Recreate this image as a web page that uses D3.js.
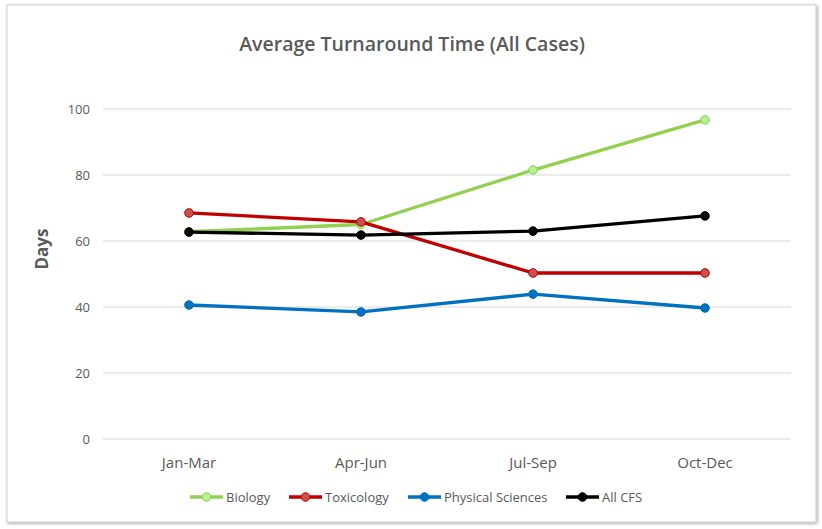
<!DOCTYPE html>
<html>
<head>
<meta charset="utf-8">
<script src="https://cdn.jsdelivr.net/npm/d3@7"></script>
<style>
  body { margin: 0; background: #fff; }
  svg { display: block; font-family: "Open Sans", "Noto Sans", sans-serif; }
</style>
</head>
<body>
<svg id="svg" width="822" height="529"></svg>
<script>
const quarters = ["Jan-Mar", "Apr-Jun", "Jul-Sep", "Oct-Dec"];
const biology = [62.8, 65.0, 81.5, 96.7];
const toxicology = [68.5, 65.8, 50.3, 50.3];
const physical = [40.6, 38.5, 43.9, 39.7];
const allCfs = [62.7, 61.8, 63.0, 67.6];
const yTicks = [0, 20, 40, 60, 80, 100];

const series = [
  { name: "Biology", values: biology, color: "#92d050", fill: "#b4f08c" },
  { name: "Toxicology", values: toxicology, color: "#c00000", fill: "#c8504d" },
  { name: "Physical Sciences", values: physical, color: "#0070c0", fill: "#0070c0" },
  { name: "All CFS", values: allCfs, color: "#000000", fill: "#000000" }
];

const svg = d3.select("#svg");

// chart frame with soft shadow
const defs = svg.append("defs");
const f = defs.append("filter").attr("id", "shadow")
  .attr("x", "-5%").attr("y", "-5%").attr("width", "110%").attr("height", "110%");
f.append("feDropShadow").attr("dx", 1).attr("dy", 1).attr("stdDeviation", 1.8)
  .attr("flood-color", "#000").attr("flood-opacity", 0.4);

svg.append("rect")
  .attr("x", 7).attr("y", 5).attr("width", 809).attr("height", 517)
  .attr("fill", "#fff").attr("stroke", "#cfcfcf").attr("stroke-width", 1)
  .attr("filter", "url(#shadow)");

const x = d3.scaleBand().domain(quarters).range([103, 791]);
const y = d3.scaleLinear().domain([0, 100]).range([439, 109]);

// gridlines
svg.append("g")
  .selectAll("line")
  .data(yTicks)
  .enter()
  .append("line")
  .attr("x1", 103).attr("x2", 791)
  .attr("y1", (d) => y(d)).attr("y2", (d) => y(d))
  .attr("stroke", "#d9d9d9").attr("stroke-width", 1);

// y axis labels
const yAxis = svg.append("g")
  .attr("transform", "translate(97,0)")
  .call(d3.axisLeft(y).tickValues(yTicks).tickSize(0).tickPadding(7));
yAxis.select(".domain").remove();
yAxis.selectAll("text")
  .attr("fill", "#595959").style("font-size", "13px")
  .style("font-family", "'Open Sans', sans-serif");

// x axis labels
const xAxis = svg.append("g")
  .attr("transform", "translate(0,450)")
  .call(d3.axisBottom(x).tickSize(0).tickPadding(7));
xAxis.select(".domain").remove();
xAxis.selectAll("text")
  .attr("fill", "#595959").style("font-size", "15px")
  .style("font-family", "'Open Sans', sans-serif");

// title
svg.append("text")
  .attr("x", 412).attr("y", 51)
  .attr("text-anchor", "middle")
  .attr("fill", "#595959")
  .style("font-size", "19.5px").style("font-weight", 600)
  .text("Average Turnaround Time (All Cases)");

// y label
svg.append("text")
  .attr("transform", "translate(48,249) rotate(-90)")
  .attr("text-anchor", "middle")
  .attr("fill", "#595959")
  .style("font-size", "17px").style("font-weight", 700)
  .text("Days");

const cx = (i) => x(quarters[i]) + x.bandwidth() / 2;
const line = d3.line().x((d, i) => cx(i)).y((d) => y(d));

const lines = svg.append("g");
series.forEach((s) => {
  const g = lines.append("g");
  g.append("path")
    .attr("d", line(s.values))
    .attr("fill", "none")
    .attr("stroke", s.color)
    .attr("stroke-width", 3.3)
    .attr("stroke-linejoin", "round");
  g.selectAll("circle")
    .data(s.values)
    .enter()
    .append("circle")
    .attr("cx", (d, i) => cx(i))
    .attr("cy", (d) => y(d))
    .attr("r", 4.3)
    .attr("fill", s.fill)
    .attr("stroke", s.color)
    .attr("stroke-width", 1);
});

// legend
const legendX = [190, 289, 408, 566];
const legend = svg.append("g").attr("transform", "translate(0,497)");
series.forEach((s, i) => {
  const g = legend.append("g").attr("transform", `translate(${legendX[i]},0)`);
  g.append("line").attr("x1", 0).attr("x2", 33).attr("y1", 0).attr("y2", 0)
    .attr("stroke", s.color).attr("stroke-width", 3.3);
  g.append("circle").attr("cx", 16.5).attr("cy", 0).attr("r", 4.3)
    .attr("fill", s.fill).attr("stroke", s.color).attr("stroke-width", 1);
  g.append("text").attr("x", 36).attr("y", 4.5)
    .attr("fill", "#595959").style("font-size", "13px")
    .text(s.name);
});
</script>
</body>
</html>
